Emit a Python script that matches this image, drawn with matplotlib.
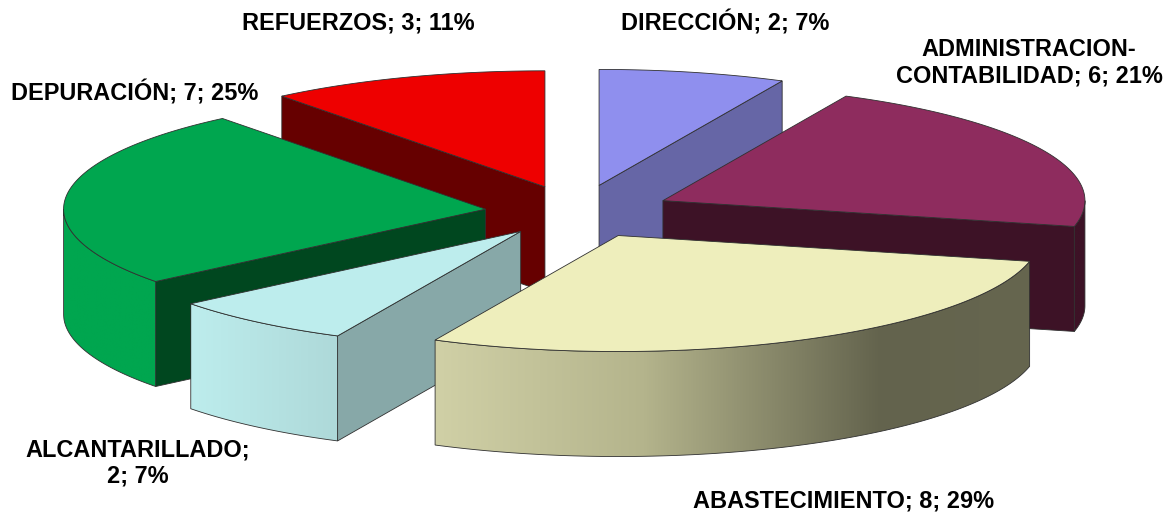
import numpy as np
import matplotlib
matplotlib.use('Agg')
import matplotlib.pyplot as plt
from matplotlib.colors import LinearSegmentedColormap
from matplotlib.patches import Polygon

categories = ['DIRECCIÓN', 'ADMINISTRACION-\nCONTABILIDAD', 'ABASTECIMIENTO',
              'ALCANTARILLADO', 'DEPURACIÓN', 'REFUERZOS']
values = [2, 6, 8, 2, 7, 3]
explode = [0.235, 0.226, 0.225, 0.214, 0.218, 0.23]

top_colors = ['#8f8fee', '#8e2c5e', '#eeeebc', '#bdeded', '#00a64f', '#ee0000']
cut_colors = ['#6666a6', '#3d1226', '#66664f', '#87a8a8', '#00471f', '#660000']
rim_colors = [[(0, '#6666a6'), (1, '#6666a6')], [(0, '#3d1226'), (1, '#3d1226')],
              [(0, '#d0d0a6'), (0.35, '#b4b48c'), (0.75, '#63634d'), (1, '#66664f')],
              [(0, '#bdeded'), (1, '#aed9d9')], [(0, '#00a64f'), (1, '#00a64f')],
              [(0, '#660000'), (1, '#660000')]]

# layout of the pie, in pixels
CX, CY = 577, 212
RX, RY = 422, 116
DEPTH = 105

plt.rcParams['font.family'] = ['Liberation Sans', 'DejaVu Sans']

fig = plt.figure(figsize=(11.74, 5.18), dpi=100)
ax = fig.add_axes([0, 0, 1, 1])


def pt(ang, r=1.0, dx=0, dy=0):
	a = np.radians(ang)
	return CX + dx + r*RX*np.sin(a), CY + dy - r*RY*np.cos(a)


def draw_slice(a1, a2, expl, top, cut, rim, z):
	mid = (a1 + a2)/2
	ox = expl*RX*np.sin(np.radians(mid))
	oy = -expl*RY*np.cos(np.radians(mid))
	x0, y0 = CX + ox, CY + oy
	arc = np.linspace(a1, a2, 200)
	xs, ys = pt(arc, 1.0, ox, oy)

	# radial cut faces that look towards the viewer
	for ang, show in [(a1, np.sin(np.radians(a1)) < 0), (a2, np.sin(np.radians(a2)) > 0.001)]:
		if show:
			xe, ye = pt(ang, 1.0, ox, oy)
			quad = [(x0, y0), (xe, ye), (xe, ye + DEPTH), (x0, y0 + DEPTH)]
			ax.add_patch(Polygon(quad, fc=cut, ec='#303030', lw=0.6, zorder=z))

	# outer wall, only the front half of the ellipse shows
	b1, b2 = max(a1, 90), min(a2, 270)
	if b2 > b1:
		arc2 = np.linspace(b1, b2, 200)
		rx, ry = pt(arc2, 1.0, ox, oy)
		wall = np.column_stack([np.r_[rx, rx[::-1]], np.r_[ry, ry[::-1] + DEPTH]])
		patch = Polygon(wall, fc='none', ec='#303030', lw=0.6, zorder=z + 0.2)
		ax.add_patch(patch)
		cmap = LinearSegmentedColormap.from_list('rim', rim)
		im = ax.imshow(np.linspace(0, 1, 256)[None, :], cmap=cmap, aspect='auto',
			extent=(rx.min(), rx.max(), ry.max() + DEPTH, ry.min()), zorder=z + 0.1)
		im.set_clip_path(patch)

	poly = np.column_stack([np.r_[x0, xs], np.r_[y0, ys]])
	ax.add_patch(Polygon(poly, fc=top, ec='#303030', lw=0.6, zorder=z + 0.3))


total = sum(values)
edges = np.r_[0, np.cumsum(values)]*360/total
# back slices first so the front ones sit over them
order = [5, 0, 4, 1, 3, 2]
for z, i in enumerate(order):
	draw_slice(edges[i], edges[i + 1], explode[i], top_colors[i], cut_colors[i], rim_colors[i], z + 1)

label_pos = [(725, 23), (1029, 63), (844, 501), (138, 463), (135, 93), (358, 23)]
for i, (lx, ly) in enumerate(label_pos):
	pct = round(values[i]/total*100)
	txt = '{}; {}; {}%'.format(categories[i], values[i], pct)
	if i == 3:
		txt = '{};\n{}; {}%'.format(categories[i], values[i], pct)
	ax.text(lx, ly, txt, ha='center', va='center', fontsize=16.9, fontweight='bold',
		color='black', linespacing=1.17, zorder=20)

ax.set_xlim(0, 1174)
ax.set_ylim(518, 0)
ax.axis('off')
fig.savefig('out.png', dpi=100)
